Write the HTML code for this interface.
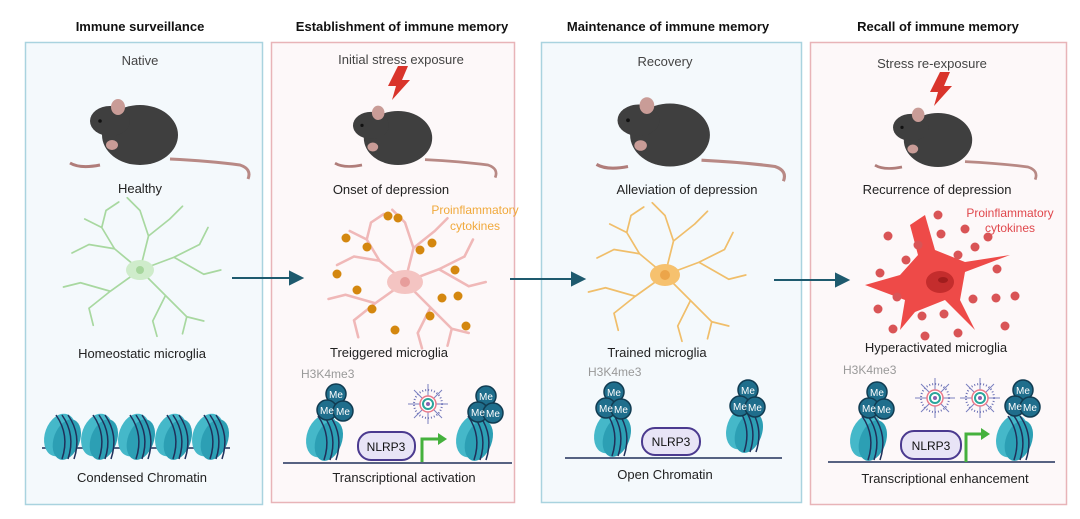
<!DOCTYPE html>
<html><head><meta charset="utf-8"><style>
html,body{margin:0;padding:0;background:#fff;}
svg{display:block;font-family:"Liberation Sans",sans-serif;}
</style></head><body>
<svg width="1080" height="519" viewBox="0 0 1080 519" xmlns="http://www.w3.org/2000/svg">
<defs>
<g id="mouse">
<path d="M-40 30 Q-60 34 -70 28" stroke="#b07d7a" stroke-width="3" fill="none"/>
<ellipse cx="0" cy="0" rx="38" ry="30" fill="#3f3f3f"/>
<ellipse cx="-30" cy="-14" rx="20" ry="15" fill="#3f3f3f"/>
<ellipse cx="-22" cy="-28" rx="7" ry="8" fill="#c99c97"/>
<circle cx="-40" cy="-14" r="1.8" fill="#111"/>
<ellipse cx="-28" cy="10" rx="6" ry="5" fill="#c99c97"/>
<path d="M30 24 Q70 26 100 30 Q112 34 108 44" stroke="#b88985" stroke-width="3" fill="none"/>
</g>
<g id="glia" fill="none" stroke-linecap="round">
<path d="M0 0 L-30 -25 L-45 -50 M-30 -25 L-60 -30 M-45 -50 L-40 -70 M-45 -50 L-65 -60 M0 0 L10 -40 L0 -70 M10 -40 L35 -60 M0 -70 L-15 -85 M35 -60 L50 -75 M0 0 L40 -15 L70 -30 M40 -15 L75 5 M70 -30 L80 -50 M75 5 L95 0 M0 0 L30 30 L55 55 M30 30 L15 60 M55 55 L75 60 M15 60 L20 78 M0 0 L-35 25 L-60 45 M-35 25 L-70 15 M-60 45 L-55 65 M-70 15 L-90 20 M-60 -30 L-80 -20 M-40 -70 L-25 -80 M55 55 L50 75"/>
</g>
<g id="nuc">
<ellipse cx="0" cy="0" rx="15" ry="22" fill="#45b8c9" transform="rotate(20)"/>
<ellipse cx="8" cy="2" rx="13" ry="21" fill="#2c9fb4" transform="rotate(20)"/>
<path d="M-4 -20 Q10 0 2 24 M2 -20 Q16 0 8 24 M8 -20 Q22 0 14 24" stroke="#20305a" stroke-width="1.5" fill="none"/>
</g>
<g id="virus">
<circle r="14" fill="none" stroke="#6d72b5" stroke-width="2" stroke-dasharray="1 2"/>
<path d="M0-20V20M-20 0H20M-14-14L14 14M14-14L-14 14" stroke="#7a7fc0" stroke-width="1"/>
<circle r="8" fill="#fff" stroke="#e97a8a" stroke-width="1.5"/>
<circle r="5" fill="none" stroke="#2ba59b" stroke-width="2"/>
<circle r="2" fill="#8a5fb0"/>
</g>
</defs>

<g font-weight="bold" font-size="13" text-anchor="middle" fill="#111">
<text x="140" y="31">Immune surveillance</text>
<text x="402" y="31">Establishment of immune memory</text>
<text x="668" y="31">Maintenance of immune memory</text>
<text x="938" y="31">Recall of immune memory</text>
</g>

<rect x="25.5" y="42.5" width="237" height="462" fill="#f4f9fc" stroke="#a9d3df" stroke-width="1.5"/>
<rect x="271.5" y="42.5" width="243" height="460" fill="#fdf8f9" stroke="#e8b4b8" stroke-width="1.5"/>
<rect x="541.5" y="42.5" width="260" height="460" fill="#f4f9fc" stroke="#a9d3df" stroke-width="1.5"/>
<rect x="810.5" y="42.5" width="256" height="462" fill="#fdf8f9" stroke="#e8b4b8" stroke-width="1.5"/>

<g font-size="13" text-anchor="middle" fill="#222">
<text x="140" y="65" fill="#444">Native</text>
<text x="140" y="193">Healthy</text>
<text x="142" y="358">Homeostatic microglia</text>
<text x="142" y="482">Condensed Chromatin</text>
<text x="401" y="64" fill="#444">Initial stress exposure</text>
<text x="391" y="194">Onset of depression</text>
<text x="389" y="357">Treiggered microglia</text>
<text x="404" y="482">Transcriptional activation</text>
<text x="665" y="66" fill="#444">Recovery</text>
<text x="687" y="194">Alleviation of depression</text>
<text x="657" y="357">Trained microglia</text>
<text x="665" y="479">Open Chromatin</text>
<text x="932" y="68" fill="#444">Stress re-exposure</text>
<text x="937" y="194">Recurrence of depression</text>
<text x="936" y="352">Hyperactivated microglia</text>
<text x="945" y="483">Transcriptional enhancement</text>
</g>
<g font-size="12" text-anchor="middle">
<text x="475" y="214" fill="#f0a93c">Proinflammatory</text>
<text x="475" y="230" fill="#f0a93c">cytokines</text>
<text x="1010" y="217" fill="#e0474c">Proinflammatory</text>
<text x="1010" y="232" fill="#e0474c">cytokines</text>
</g>
<g font-size="12" fill="#999">
<text x="301" y="378">H3K4me3</text>
<text x="588" y="376">H3K4me3</text>
<text x="843" y="374">H3K4me3</text>
</g>

<!-- mice -->
<use href="#mouse" transform="translate(140,135)"/>
<use href="#mouse" transform="translate(398,138) scale(0.9)"/>
<use href="#mouse" transform="translate(670,135) scale(1.05)"/>
<use href="#mouse" transform="translate(938,140) scale(0.9)"/>
<path d="M398 66 L388 86 L396 86 L392 100 L410 80 L402 80 L408 66Z" fill="#d9342b"/>
<path d="M940 72 L930 92 L938 92 L934 106 L952 86 L944 86 L950 72Z" fill="#d9342b"/>

<!-- microglia -->
<use href="#glia" transform="translate(140,270) scale(0.85)" stroke="#a8d8a0" stroke-width="2"/>
<ellipse cx="140" cy="270" rx="14" ry="10" fill="#cfeccb"/><circle cx="140" cy="270" r="4" fill="#a6d69c"/>
<use href="#glia" transform="translate(405,282) scale(0.85)" stroke="#f0b8b8" stroke-width="3"/>
<ellipse cx="405" cy="282" rx="18" ry="12" fill="#f4c4c2"/><circle cx="405" cy="282" r="5" fill="#e79d9b"/>
<use href="#glia" transform="translate(665,275) scale(0.85)" stroke="#f0be6a" stroke-width="2"/>
<ellipse cx="665" cy="275" rx="15" ry="11" fill="#f6c16e"/><circle cx="665" cy="275" r="5" fill="#eca54a"/>
<path d="M925 215 L935 250 L965 262 L1010 255 L965 272 L960 300 L975 330 L945 300 L915 312 L900 330 L905 300 L865 285 L900 275 L918 255 L910 225Z" fill="#ee4a48"/>
<ellipse cx="940" cy="282" rx="14" ry="11" fill="#c42d2d"/><ellipse cx="943" cy="280" rx="5" ry="3" fill="#a01d1d"/>
<g fill="#d4870f">
<circle cx="388" cy="216" r="4.5"/><circle cx="346" cy="238" r="4.5"/><circle cx="398" cy="218" r="4.5"/><circle cx="367" cy="247" r="4.5"/><circle cx="432" cy="243" r="4.5"/><circle cx="455" cy="270" r="4.5"/><circle cx="337" cy="274" r="4.5"/><circle cx="420" cy="250" r="4.5"/><circle cx="357" cy="290" r="4.5"/><circle cx="372" cy="309" r="4.5"/><circle cx="442" cy="298" r="4.5"/><circle cx="430" cy="316" r="4.5"/><circle cx="466" cy="326" r="4.5"/><circle cx="395" cy="330" r="4.5"/><circle cx="458" cy="296" r="4.5"/>
</g>
<g fill="#d95456">
<circle cx="938" cy="215" r="4.5"/><circle cx="888" cy="236" r="4.5"/><circle cx="941" cy="234" r="4.5"/><circle cx="965" cy="229" r="4.5"/><circle cx="988" cy="237" r="4.5"/><circle cx="918" cy="245" r="4.5"/><circle cx="975" cy="247" r="4.5"/><circle cx="958" cy="255" r="4.5"/><circle cx="906" cy="260" r="4.5"/><circle cx="880" cy="273" r="4.5"/><circle cx="997" cy="269" r="4.5"/><circle cx="897" cy="297" r="4.5"/><circle cx="973" cy="299" r="4.5"/><circle cx="996" cy="298" r="4.5"/><circle cx="1015" cy="296" r="4.5"/><circle cx="878" cy="309" r="4.5"/><circle cx="922" cy="316" r="4.5"/><circle cx="944" cy="314" r="4.5"/><circle cx="893" cy="329" r="4.5"/><circle cx="925" cy="336" r="4.5"/><circle cx="958" cy="333" r="4.5"/><circle cx="1005" cy="326" r="4.5"/>
</g>

<!-- arrows -->
<g stroke="#1e5a6e" stroke-width="2" fill="#1e5a6e">
<line x1="232" y1="278" x2="292" y2="278"/><path d="M302 278 L290 272 L290 284Z"/>
<line x1="510" y1="279" x2="574" y2="279"/><path d="M584 279 L572 273 L572 285Z"/>
<line x1="774" y1="280" x2="838" y2="280"/><path d="M848 280 L836 274 L836 286Z"/>
</g>

<!-- condensed chromatin -->
<line x1="42" y1="448" x2="230" y2="448" stroke="#20305a" stroke-width="1.5"/>
<use href="#nuc" transform="translate(60,435)"/><use href="#nuc" transform="translate(97,435)"/><use href="#nuc" transform="translate(134,435)"/><use href="#nuc" transform="translate(171,435)"/><use href="#nuc" transform="translate(208,435)"/>

<!-- panel2 chromatin -->
<path d="M283 463 L512 463" stroke="#20305a" stroke-width="1.5"/>
<use href="#nuc" transform="translate(322,436)"/><use href="#nuc" transform="translate(472,436)"/>
<rect x="358" y="432" width="57" height="28" rx="13" fill="#e8e4f6" stroke="#4b3a8f" stroke-width="2"/>
<path d="M422 462 V439 H440" stroke="#45b13d" stroke-width="3" fill="none"/><path d="M447 439 L438 433 L438 445Z" fill="#45b13d"/>
<use href="#virus" transform="translate(428,404)"/>
<use href="#virus" transform="translate(935,398)"/><use href="#virus" transform="translate(980,398)"/>

<!-- panel3 chromatin -->
<path d="M565 458 L782 458" stroke="#20305a" stroke-width="1.5"/>
<use href="#nuc" transform="translate(610,432)"/><use href="#nuc" transform="translate(742,428)"/>
<rect x="642" y="428" width="58" height="27" rx="13" fill="#e8e4f6" stroke="#4b3a8f" stroke-width="2"/>

<!-- panel4 chromatin -->
<path d="M828 462 L1055 462" stroke="#20305a" stroke-width="1.5"/>
<use href="#nuc" transform="translate(866,436)"/><use href="#nuc" transform="translate(1012,436)"/>
<rect x="901" y="431" width="60" height="28" rx="13" fill="#e8e4f6" stroke="#4b3a8f" stroke-width="2"/>
<path d="M966 462 V434 H982" stroke="#45b13d" stroke-width="3" fill="none"/><path d="M990 434 L981 428 L981 440Z" fill="#45b13d"/>

<g font-size="12" text-anchor="middle" fill="#111">
<text x="386" y="451">NLRP3</text><text x="671" y="446">NLRP3</text><text x="931" y="450">NLRP3</text>
</g>

<!-- Me clusters -->
<g fill="#1f6e8c" stroke="#113c52" stroke-width="1.5">
<circle cx="336" cy="394" r="10"/><circle cx="327" cy="410" r="10"/><circle cx="343" cy="411" r="10"/>
<circle cx="486" cy="396" r="10"/><circle cx="478" cy="412" r="10"/><circle cx="493" cy="413" r="10"/>
<circle cx="614" cy="392" r="10"/><circle cx="606" cy="408" r="10"/><circle cx="621" cy="409" r="10"/>
<circle cx="748" cy="390" r="10"/><circle cx="740" cy="406" r="10"/><circle cx="755" cy="407" r="10"/>
<circle cx="877" cy="392" r="10"/><circle cx="869" cy="408" r="10"/><circle cx="884" cy="409" r="10"/>
<circle cx="1023" cy="390" r="10"/><circle cx="1015" cy="406" r="10"/><circle cx="1030" cy="407" r="10"/>
</g>
<g font-size="10" fill="#fff" text-anchor="middle">
<text x="336" y="398">Me</text><text x="327" y="414">Me</text><text x="343" y="415">Me</text>
<text x="486" y="400">Me</text><text x="478" y="416">Me</text><text x="493" y="417">Me</text>
<text x="614" y="396">Me</text><text x="606" y="412">Me</text><text x="621" y="413">Me</text>
<text x="748" y="394">Me</text><text x="740" y="410">Me</text><text x="755" y="411">Me</text>
<text x="877" y="396">Me</text><text x="869" y="412">Me</text><text x="884" y="413">Me</text>
<text x="1023" y="394">Me</text><text x="1015" y="410">Me</text><text x="1030" y="411">Me</text>
</g>
</svg>
</body></html>
